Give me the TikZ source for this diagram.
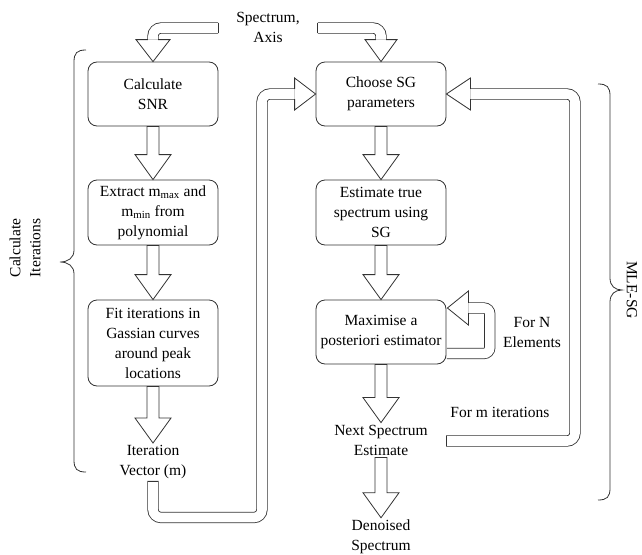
\documentclass[tikz,border=0pt]{standalone}
\usepackage{fontspec}
\setmainfont{Liberation Serif}
\usetikzlibrary{calc}
\tikzset{
 box/.style={draw=black!80, line width=0.8pt, rounded corners=9pt, fill=white, minimum width=130pt, minimum height=64pt, align=center, inner sep=1pt},
 lbl/.style={align=center, inner sep=2pt},
 blk/.style={draw=black!80, line width=0.8pt, fill=white},
 blkopen/.style={draw=black!80, line width=0.8pt},
 shaft/.style={draw=black!80, line width=0.8pt, double=white, double distance=9.6pt, rounded corners=8pt},
 brc/.style={draw=black!80, line width=0.8pt},
}
% straight vertical block arrow from #1 down to tip #2
\newcommand\vblock[2]{\draw[blk] ($(#1)+(-6,0)$) -- ($(#2)+(-6,-25)$) -- ($(#2)+(-18,-25)$) -- (#2) -- ($(#2)+(18,-25)$) -- ($(#2)+(6,-25)$) -- ($(#1)+(6,0)$) -- cycle;}
% open arrow heads: tip #1, length #2, half width #3
\newcommand\hdown[3]{\draw[blkopen] ($(#1)+(-5.2,-#2)$) -- ($(#1)+(-#3,-#2)$) -- (#1) -- ($(#1)+(#3,-#2)$) -- ($(#1)+(5.2,-#2)$);}
\newcommand\hright[3]{\draw[blkopen] ($(#1)+(-#2,-5.2)$) -- ($(#1)+(-#2,-#3)$) -- (#1) -- ($(#1)+(-#2,#3)$) -- ($(#1)+(-#2,5.2)$);}
\newcommand\hleft[3]{\draw[blkopen] ($(#1)+(#2,-5.2)$) -- ($(#1)+(#2,-#3)$) -- (#1) -- ($(#1)+(#2,#3)$) -- ($(#1)+(#2,5.2)$);}
\begin{document}
\begin{tikzpicture}[x=1pt,y=-1pt, every node/.style={font=\fontsize{15.5}{20}\selectfont}]
\useasboundingbox (0,0) rectangle (642,554);

% boxes
\node[box] (snr) at (153,94) {Calculate\\SNR};
\node[box, minimum height=65pt] (ext) at (153,212.5) {Extract m\textsubscript{max} and\\m\textsubscript{min} from\\polynomial};
\node[box, minimum height=86pt] (fit) at (153,343) {Fit iterations in\\Gassian curves\\around peak\\locations};
\node[lbl] (itv) at (153,462) {Iteration\\Vector (m)};

\node[box] (sg) at (381,94) {Choose SG\\parameters};
\node[box, minimum height=65pt] (est) at (381,212.5) {Estimate true\\spectrum using\\SG};
\node[box] (map) at (381,332) {Maximise a\\posteriori estimator};
\node[lbl] (nse) at (381,440) {Next Spectrum\\Estimate};
\node[lbl] (den) at (381,537) {Denoised\\Spectrum};

\node[lbl] (spec) at (268,27) {Spectrum,\\Axis};
\node[lbl] (forn) at (532,332) {For N\\Elements};
\node[lbl] (form) at (500,412) {For m iterations};
\node[lbl, rotate=90] (calcit) at (25,248) {Calculate\\Iterations};
\node[lbl, rotate=-90] (mle) at (632,290) {MLE-SG};

% straight block arrows
\vblock{snr.south}{ext.north}
\vblock{ext.south}{fit.north}
\vblock{fit.south}{itv.north}
\vblock{sg.south}{est.north}
\vblock{est.south}{map.north}
\vblock{map.south}{nse.north}
\vblock{nse.south}{den.north}

% input arrows from Spectrum, Axis
\coordinate (aS) at ($(spec.west)+(-16,1)$);
\coordinate (bS) at ($(spec.east)+(16,1)$);
\draw[shaft] (aS) -| ($(snr.north)+(0,-22)$);
\draw[blkopen] ($(aS)+(0,-5.2)$) -- ($(aS)+(0,5.2)$);
\hdown{snr.north}{22}{17}
\draw[shaft] (bS) -| ($(sg.north)+(0,-22)$);
\draw[blkopen] ($(bS)+(0,-5.2)$) -- ($(bS)+(0,5.2)$);
\hdown{sg.north}{22}{16}

% iteration vector to Choose SG
\coordinate (bc) at (262,517.5);
\draw[shaft] (itv.south) |- (bc) |- ($(sg.west)+(-21,0)$);
\draw[blkopen] ($(itv.south)+(-5.2,0)$) -- ($(itv.south)+(5.2,0)$);
\hright{sg.west}{21}{16}

% for m iterations loop
\coordinate (ms) at (446,441);
\coordinate (mc) at (575,441);
\draw[shaft] (ms) -- (mc) |- ($(sg.east)+(24,0)$);
\draw[blkopen] ($(ms)+(0,-5.2)$) -- ($(ms)+(0,5.2)$);
\hleft{sg.east}{24}{16}

% self loop for N elements
\coordinate (ls) at ($(map.east)+(0.4,21.5)$);
\coordinate (lt) at ($(map.east)+(1,-24)$);
\draw[shaft, rounded corners=6pt] (ls) -- ++(43,0) |- ($(lt)+(21,0)$);
\hleft{lt}{21}{17}

% braces
\draw[brc] (86,50) .. controls (77,50) and (74,53) .. (74,62) -- (74,250) .. controls (74,258) and (68,262) .. (60,262) .. controls (68,262) and (74,266) .. (74,274) -- (74,460) .. controls (74,469) and (77,472) .. (86,472);
\draw[brc] (598,84) .. controls (607,84) and (610,87) .. (610,96) -- (610,278) .. controls (610,286) and (615,290) .. (622,290) .. controls (615,290) and (610,294) .. (610,302) -- (610,488) .. controls (610,497) and (607,500) .. (598,500);
\end{tikzpicture}
\end{document}
